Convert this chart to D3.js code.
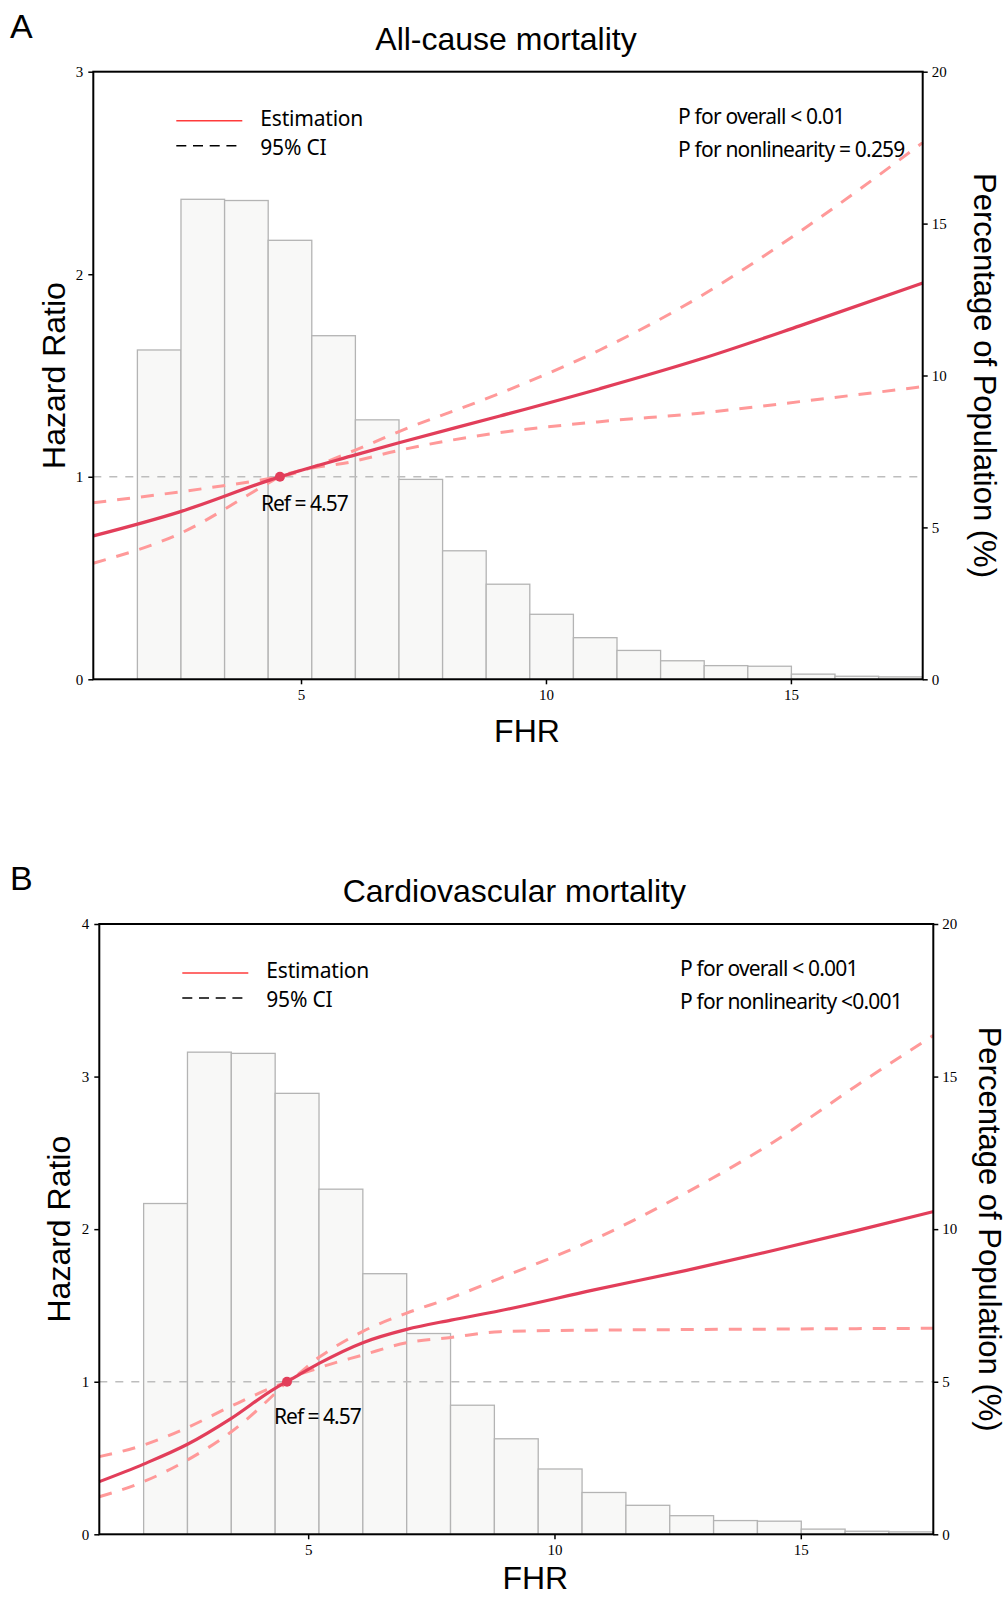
<!DOCTYPE html>
<html>
<head>
<meta charset="utf-8">
<script src="https://cdn.jsdelivr.net/npm/d3@7"></script>
<style>
  body { margin: 0; background: #fff; }
  svg { display: block; }
  .tick line { stroke: #000; stroke-width: 1.5; }
  .domain { display: none; }
</style>
</head>
<body>
<svg id="fig" width="1006" height="1602"></svg>
<script>
// histogram of FHR (bin edges) and share of population per bin, %
var fhrEdges = [1.66, 2.55, 3.44, 4.33, 5.22, 6.11, 7.0, 7.89, 8.78, 9.67, 10.56, 11.45, 12.34, 13.23, 14.12, 15.01, 15.9, 16.79, 17.68];
var popPct = [10.84, 15.8, 15.76, 14.45, 11.31, 8.54, 6.58, 4.23, 3.13, 2.14, 1.37, 0.95, 0.61, 0.45, 0.43, 0.17, 0.10, 0.08];

var fhrDomain = [0.76, 17.69];
var xTicks = [5, 10, 15];
var pctTicks = [0, 5, 10, 15, 20];
var refFHR = 4.57;

// all-cause mortality spline (HR and 95% CI)
var acX  = [0.76, 2.54, 4.33, 4.57, 6.11, 7.0, 9.06, 11.1, 13.14, 15.18, 17.69];
var acHR = [0.708, 0.828, 0.981, 1.0, 1.108, 1.168, 1.30, 1.435, 1.58, 1.745, 1.957];
var acHi = [0.872, 0.926, 0.99, 1.0, 1.132, 1.223, 1.412, 1.626, 1.889, 2.21, 2.65];
var acLo = [0.573, 0.721, 0.968, 1.0, 1.078, 1.13, 1.218, 1.272, 1.314, 1.371, 1.445];

// cardiovascular mortality spline
var cvX  = [0.76, 1.66, 2.55, 3.44, 4.33, 4.57, 5.22, 6.11, 7.0, 7.9, 8.89, 10.78, 12.68, 14.44, 16.13, 17.69];
var cvHR = [0.345, 0.46, 0.59, 0.76, 0.957, 1.0, 1.12, 1.256, 1.343, 1.404, 1.465, 1.6, 1.73, 1.86, 1.99, 2.115];
var cvHi = [0.509, 0.585, 0.70, 0.84, 0.97, 1.0, 1.16, 1.33, 1.45, 1.55, 1.678, 1.929, 2.24, 2.57, 2.94, 3.27];
var cvLo = [0.246, 0.345, 0.487, 0.672, 0.924, 1.0, 1.09, 1.175, 1.256, 1.29, 1.328, 1.338, 1.342, 1.345, 1.348, 1.35];

var acHRTicks = [0, 1, 2, 3];
var cvHRTicks = [0, 1, 2, 3, 4];

var estCol = "#e23e5a", ciCol = "#ff9999";
var sans = "\"Liberation Sans\", Arial, sans-serif";
var note = "\"Noto Sans\", \"Open Sans\", sans-serif";
var serif = "\"Liberation Serif\", \"DejaVu Serif\", serif";

var svg = d3.select("#fig");

function styleTicks(ax) {
	ax.selectAll("text").attr("font-family", serif).attr("font-size", 15).attr("fill", "#000");
}

function drawPanel(p) {
	var g = svg.append("g");
	var x = d3.scaleLinear().domain(fhrDomain).range([p.left, p.right]);
	var y = d3.scaleLinear().domain([0, p.hrTicks[p.hrTicks.length - 1]]).range([p.bottom, p.top]);
	var yp = d3.scaleLinear().domain([0, 20]).range([p.bottom, p.top]);

	// bars
	g.selectAll("rect.bar").data(popPct).enter().append("rect")
		.attr("class", "bar")
		.attr("x", (d, i) => x(fhrEdges[i]))
		.attr("width", (d, i) => x(fhrEdges[i + 1]) - x(fhrEdges[i]))
		.attr("y", d => yp(d))
		.attr("height", d => yp(0) - yp(d))
		.attr("fill", "#f8f8f7").attr("stroke", "#b4b4b4").attr("stroke-width", 1.3);

	// HR = 1 reference
	g.append("line")
		.attr("x1", p.left).attr("x2", p.right).attr("y1", y(1)).attr("y2", y(1))
		.attr("stroke", "#bdbdbd").attr("stroke-width", 1.4).attr("stroke-dasharray", "8,8");

	var line = d3.line().x(d => x(d[0])).y(d => y(d[1])).curve(d3.curveMonotoneX);
	var hi = p.xs.map((v, i) => [v, p.hi[i]]);
	var lo = p.xs.map((v, i) => [v, p.lo[i]]);
	var est = p.xs.map((v, i) => [v, p.hr[i]]);

	[hi, lo].forEach(function (ci) {
		g.append("path").attr("d", line(ci)).attr("fill", "none")
			.attr("stroke", ciCol).attr("stroke-width", 3).attr("stroke-dasharray", "13,11");
	});
	g.append("path").attr("d", line(est)).attr("fill", "none")
		.attr("stroke", estCol).attr("stroke-width", 3.2);

	g.append("circle").attr("cx", x(refFHR)).attr("cy", y(1)).attr("r", 5).attr("fill", estCol);
	g.append("text").attr("x", x(refFHR) + p.refDx).attr("y", y(1) + p.refDy)
		.attr("font-family", note).attr("font-size", 21).attr("letter-spacing", -1)
		.text("Ref = " + refFHR);

	// axes
	g.append("g").attr("transform", "translate(" + p.left + ",0)")
		.call(d3.axisLeft(y).tickValues(p.hrTicks).tickFormat(d3.format("d")).tickSize(5).tickPadding(5))
		.call(styleTicks);
	g.append("g").attr("transform", "translate(" + p.right + ",0)")
		.call(d3.axisRight(yp).tickValues(pctTicks).tickFormat(d3.format("d")).tickSize(5).tickPadding(4))
		.call(styleTicks);
	g.append("g").attr("transform", "translate(0," + p.bottom + ")")
		.call(d3.axisBottom(x).tickValues(xTicks).tickFormat(d3.format("d")).tickSize(5).tickPadding(5))
		.call(styleTicks);

	g.append("rect").attr("x", p.left).attr("y", p.top)
		.attr("width", p.right - p.left).attr("height", p.bottom - p.top)
		.attr("fill", "none").attr("stroke", "#000").attr("stroke-width", 2);

	// labels
	g.append("text").attr("x", 10).attr("y", p.top - 34)
		.attr("font-family", sans).attr("font-size", 34).text(p.letter);
	g.append("text").attr("x", (p.left + p.right) / 2 - 2).attr("y", p.top - 22)
		.attr("text-anchor", "middle").attr("font-family", sans).attr("font-size", 32).text(p.title);
	g.append("text").attr("x", (p.left + p.right) / 2 + 19).attr("y", p.xLabelY)
		.attr("text-anchor", "middle").attr("font-family", sans).attr("font-size", 32).text("FHR");
	var my = (p.top + p.bottom) / 2;
	g.append("text").attr("transform", "translate(" + p.hLabelX + "," + my + ") rotate(-90)")
		.attr("text-anchor", "middle").attr("font-family", sans).attr("font-size", 32).text("Hazard Ratio");
	g.append("text").attr("transform", "translate(" + p.rLabelX + "," + my + ") rotate(90)")
		.attr("text-anchor", "middle").attr("font-family", sans).attr("font-size", 31).text("Percentage of Population (%)");

	// legend
	var lx = p.left + 83, ly = p.top + 49;
	g.append("line").attr("x1", lx).attr("x2", lx + 66).attr("y1", ly).attr("y2", ly)
		.attr("stroke", "#ff3b3b").attr("stroke-width", 1.6);
	g.append("line").attr("x1", lx).attr("x2", lx + 66).attr("y1", ly + 25).attr("y2", ly + 25)
		.attr("stroke", "#000").attr("stroke-width", 1.6).attr("stroke-dasharray", "10,6.7");
	g.append("text").attr("x", lx + 84).attr("y", ly + 5)
		.attr("font-family", note).attr("font-size", 21).attr("letter-spacing", -0.2).text("Estimation");
	g.append("text").attr("x", lx + 84).attr("y", ly + 34)
		.attr("font-family", note).attr("font-size", 21).attr("letter-spacing", -0.2).text("95% CI");

	g.append("text").attr("x", p.pX).attr("y", p.top + 52)
		.attr("font-family", note).attr("font-size", 21).attr("letter-spacing", -0.8).text(p.p1);
	g.append("text").attr("x", p.pX).attr("y", p.top + 85)
		.attr("font-family", note).attr("font-size", 21).attr("letter-spacing", -0.8).text(p.p2);
}

drawPanel({
	letter: "A", title: "All-cause mortality",
	left: 93.3, right: 922.7, top: 71.7, bottom: 679.3,
	xLabelY: 742, rLabelX: 974, hLabelX: 65, refDx: -19, refDy: 34, pX: 678,
	hrTicks: acHRTicks, xs: acX, hr: acHR, hi: acHi, lo: acLo,
	p1: "P for overall < 0.01", p2: "P for nonlinearity = 0.259"
});
drawPanel({
	letter: "B", title: "Cardiovascular mortality",
	left: 99.3, right: 933.3, top: 924, bottom: 1534.3,
	xLabelY: 1589, rLabelX: 979, hLabelX: 70, refDx: -13, refDy: 42, pX: 680,
	hrTicks: cvHRTicks, xs: cvX, hr: cvHR, hi: cvHi, lo: cvLo,
	p1: "P for overall < 0.001", p2: "P for nonlinearity <0.001"
});
</script>
</body>
</html>
